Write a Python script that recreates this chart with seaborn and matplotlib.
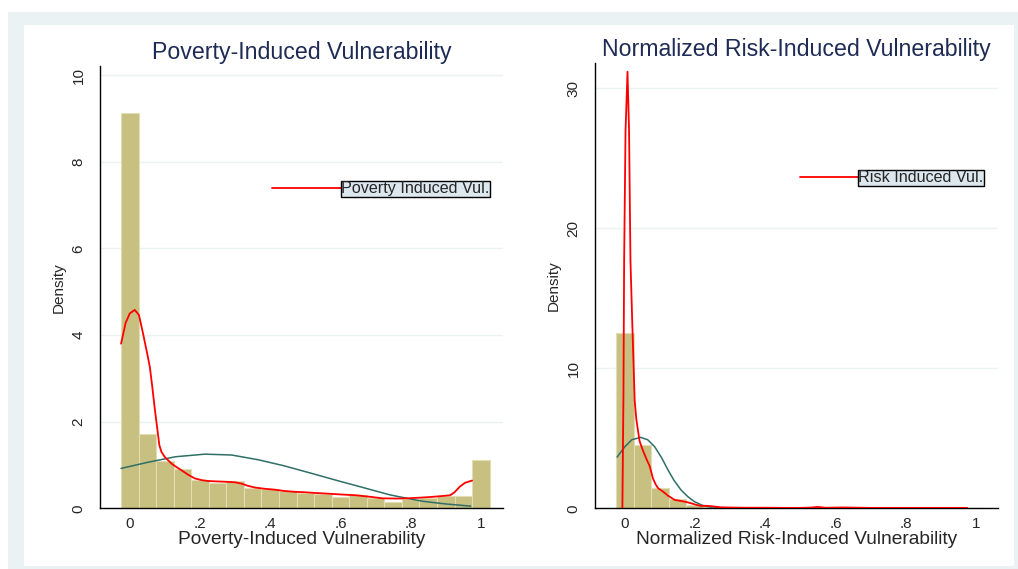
import matplotlib

matplotlib.use("Agg")
import matplotlib.pyplot as plt
import pandas as pd
import seaborn as sns
from matplotlib.patches import Rectangle

sns.set_style("white")
plt.rcParams["font.family"] = ["Liberation Sans", "DejaVu Sans"]

# histogram bin centres (same 21 bins of width .05 in both panels)
bin_centers = [round(0.05 * i, 2) for i in range(21)]

# densities
poverty_density = [9.12, 1.71, 1.085, 0.90, 0.65, 0.58, 0.63, 0.48, 0.45, 0.41, 0.36,
                   0.33, 0.25, 0.31, 0.24, 0.15, 0.22, 0.23, 0.28, 0.29, 1.12]
risk_density = [12.54, 4.52, 1.43, 0.65, 0.25, 0.12, 0.06, 0.03, 0.02, 0.02, 0.02,
                0.02, 0.02, 0.02, 0.02, 0.02, 0.02, 0.02, 0.02, 0.02, 0.02]

# kernel density (red) and normal overlay (green), left panel
poverty_kde_x = [-0.025, -0.012, 0.0, 0.014, 0.026, 0.038, 0.05, 0.057, 0.064, 0.071,
                 0.078, 0.084, 0.09, 0.1, 0.119, 0.133, 0.147, 0.165, 0.185, 0.205,
                 0.223, 0.25, 0.28, 0.30, 0.318, 0.336, 0.356, 0.385, 0.413, 0.44,
                 0.47, 0.50, 0.525, 0.56, 0.60, 0.646, 0.69, 0.72, 0.76, 0.79, 0.825,
                 0.855, 0.885, 0.912, 0.925, 0.94, 0.955, 0.975]
poverty_kde_y = [3.80, 4.28, 4.50, 4.58, 4.46, 4.02, 3.55, 3.26, 2.80, 2.30,
                 1.85, 1.46, 1.30, 1.18, 1.03, 0.95, 0.88, 0.78, 0.69, 0.65,
                 0.63, 0.62, 0.61, 0.60, 0.57, 0.52, 0.48, 0.45, 0.43, 0.40,
                 0.38, 0.37, 0.355, 0.34, 0.32, 0.30, 0.26, 0.23, 0.225, 0.23, 0.245,
                 0.26, 0.28, 0.30, 0.37, 0.50, 0.59, 0.64]
poverty_norm_x = [-0.025, 0.05, 0.13, 0.214, 0.29, 0.366, 0.44, 0.525, 0.6, 0.646,
                  0.70, 0.741, 0.79, 0.836, 0.9, 0.971]
poverty_norm_y = [0.92, 1.06, 1.19, 1.25, 1.23, 1.12, 0.98, 0.79, 0.62, 0.52,
                  0.40, 0.31, 0.23, 0.16, 0.10, 0.05]

# kernel density (red) and normal overlay (green), right panel
risk_kde_x = [-0.007, -0.004, -0.002, 0.002, 0.0076, 0.012, 0.016, 0.021, 0.028, 0.033,
              0.042, 0.052, 0.062, 0.071, 0.080, 0.088, 0.095, 0.109, 0.123, 0.142,
              0.161, 0.175, 0.189, 0.203, 0.217, 0.232, 0.246, 0.274, 0.31, 0.35,
              0.40, 0.45, 0.50, 0.53, 0.55, 0.57, 0.62, 0.70, 0.80, 0.90, 0.975]
risk_kde_y = [0.0, 8.0, 17.7, 27.0, 31.2, 27.0, 17.7, 13.4, 7.7, 6.3,
              4.8, 4.1, 3.5, 3.0, 2.14, 1.7, 1.43, 1.19, 0.9, 0.6,
              0.52, 0.45, 0.36, 0.25, 0.17, 0.18, 0.15, 0.07, 0.05, 0.04,
              0.04, 0.03, 0.03, 0.05, 0.10, 0.04, 0.06, 0.03, 0.03, 0.03, 0.03]
risk_norm_x = [-0.022, 0.0, 0.02, 0.045, 0.065, 0.085, 0.105, 0.123, 0.14, 0.16,
               0.18, 0.198, 0.22, 0.24, 0.274, 0.30, 0.975]
risk_norm_y = [3.66, 4.4, 4.9, 5.07, 4.9, 4.4, 3.6, 2.74, 2.0, 1.31,
               0.82, 0.48, 0.22, 0.10, 0.02, 0.005, 0.0]

x_ticks = [0, 0.2, 0.4, 0.6, 0.8, 1]
x_tick_labels = ["0", ".2", ".4", ".6", ".8", "1"]
poverty_y_ticks = [0, 2, 4, 6, 8, 10]
risk_y_ticks = [0, 10, 20, 30]

BAR_COLOR = "#C8C080"
BAR_EDGE = "#E2DDB4"
KDE_COLOR = "#FF0000"
NORM_COLOR = "#2F6F68"
GRID_COLOR = "#EAF2F3"
TITLE_COLOR = "#1E2B55"


def draw_panel(ax, density, kde_x, kde_y, norm_x, norm_y, y_ticks, ylim,
               title, xlabel, legend_label, legend_anchor, handle_len):
    hist_df = pd.DataFrame({"center": bin_centers, "density": density})
    sns.histplot(data=hist_df, x="center", weights="density", binwidth=0.05,
                 binrange=(-0.025, 1.025), ax=ax, color=BAR_COLOR,
                 edgecolor=BAR_EDGE, linewidth=0.8, alpha=1.0)
    kde_line, = ax.plot(kde_x, kde_y, color=KDE_COLOR, lw=1.3, zorder=4)
    sns.lineplot(x=norm_x, y=norm_y, ax=ax, color=NORM_COLOR, lw=1.1,
                 estimator=None, zorder=3)

    ax.set_xlim(-0.085, 1.063)
    ax.set_ylim(*ylim)
    ax.set_xticks(x_ticks)
    ax.set_xticklabels(x_tick_labels)
    ax.set_yticks(y_ticks)
    ax.set_yticklabels([str(t) for t in y_ticks])
    for lab in ax.get_yticklabels():
        lab.set_rotation(90)
        lab.set_va("center")
        lab.set_ha("right")

    ax.grid(axis="y", color=GRID_COLOR, lw=1)
    ax.set_axisbelow(True)
    for side in ["top", "right"]:
        ax.spines[side].set_visible(False)
    for side in ["left", "bottom"]:
        ax.spines[side].set_color("black")
        ax.spines[side].set_linewidth(1.0)
    ax.tick_params(axis="both", direction="out", length=4.5, width=0.9,
                   labelsize=11, color="#333333", pad=2)
    ax.tick_params(axis="y", pad=6)

    ax.set_title(title, fontsize=16.7, color=TITLE_COLOR, pad=5)
    ax.set_xlabel(xlabel, fontsize=13.8, labelpad=0)
    ax.set_ylabel("Density", fontsize=11, labelpad=4)

    leg = ax.legend(handles=[kde_line], labels=[legend_label], loc="center left",
                    bbox_to_anchor=legend_anchor, frameon=False, fontsize=11.6,
                    handlelength=handle_len, handletextpad=0.0, borderaxespad=0,
                    borderpad=0)
    leg.get_texts()[0].set_bbox(dict(facecolor="#DCE7EE", edgecolor="black",
                                     linewidth=1.0, pad=0.4))


fig = plt.figure(figsize=(10.18, 5.69), dpi=100)
fig.patches.append(Rectangle((8 / 1018, 0), 1, 557 / 569, transform=fig.transFigure,
                             facecolor="#EAF2F3", edgecolor="none", zorder=-2))
fig.patches.append(Rectangle((24 / 1018, 3.3 / 569), 990 / 1018, 540.7 / 569,
                             transform=fig.transFigure, facecolor="white",
                             edgecolor="none", zorder=-1))

ax1 = fig.add_axes([100 / 1018, 60.7 / 569, 403 / 1018, 442.3 / 569])
ax2 = fig.add_axes([595 / 1018, 60.7 / 569, 403 / 1018, 445 / 569])
for ax in (ax1, ax2):
    ax.patch.set_alpha(0)

draw_panel(ax1, poverty_density, poverty_kde_x, poverty_kde_y, poverty_norm_x,
           poverty_norm_y, poverty_y_ticks, (0, 10.21),
           "Poverty-Induced Vulnerability", "Poverty-Induced Vulnerability",
           "Poverty Induced Vul.", (0.427, 0.722), 4.3)
draw_panel(ax2, risk_density, risk_kde_x, risk_kde_y, risk_norm_x, risk_norm_y,
           risk_y_ticks, (0, 31.8),
           "Normalized Risk-Induced Vulnerability", "Normalized Risk-Induced Vulnerability",
           "Risk Induced Vul.", (0.509, 0.743), 3.6)

plt.savefig("out.png", dpi=100)
plt.close()
